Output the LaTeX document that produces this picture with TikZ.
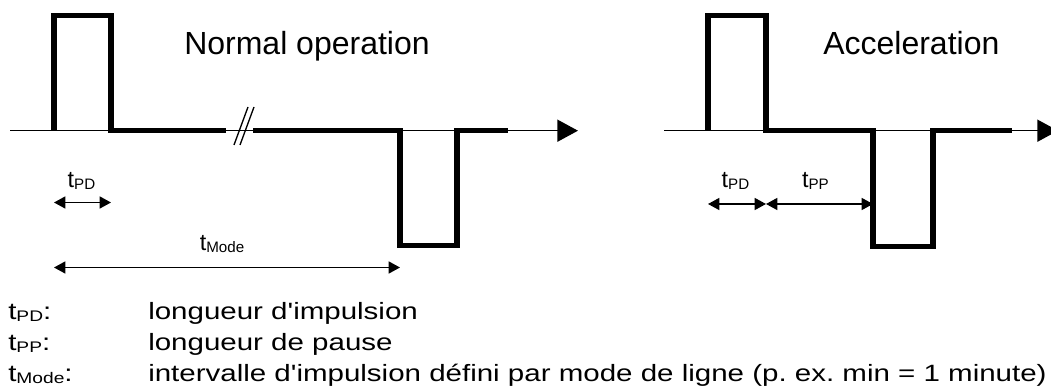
\documentclass[tikz,border=0pt]{standalone}
\usepackage{fontspec}
\setmainfont{Liberation Sans}
\usetikzlibrary{arrows.meta}
% "t" with a small, barely lowered index
\newcommand{\tsub}[1]{t\raisebox{-0.07em}{\scalebox{0.65}{#1}}}
% legend text is set a little wider than tall
\newcommand{\wide}[1]{\scalebox{1.25}[1]{#1}}
\frenchspacing
\begin{document}
\begin{tikzpicture}[x=0.75pt,y=-0.75pt,
  axisline/.style={line width=1.2pt},
  signal/.style={line width=3.8pt, line join=miter},
  bigtip/.style={-{Triangle[length=15.5pt,width=16.5pt]}},
  dimline/.style={line width=1.1pt, {Triangle[length=8.5pt,width=9pt]}-{Triangle[length=8.5pt,width=9pt]}},
  title/.style={font=\fontsize{24}{28}\selectfont, anchor=base west, inner sep=0pt},
  lbl/.style={font=\fontsize{17.5}{20}\selectfont, anchor=base, inner sep=0pt},
  legend/.style={font=\fontsize{17.7}{21}\selectfont, anchor=base west, inner sep=0pt}]
\useasboundingbox (0,0) rectangle (1051,391);

% ---------- normal operation ----------
\coordinate (a0) at (10,130.7);
\coordinate (a1) at (578,130.7);
\draw[axisline,bigtip] (a0) -- (a1);

\coordinate (p1) at (54,130.7);
\coordinate (p2) at (111,130.7);
\coordinate (b1) at (226,130.7);
\coordinate (b2) at (253,130.7);
\coordinate (n1) at (400,130.7);
\coordinate (n2) at (457,130.7);
\coordinate (e1) at (508,130.7);
\draw[signal] (p1) -- (54,15.7) -- (111,15.7) -- (p2) -- (b1);
\draw[signal] (b2) -- (n1) -- (400,245.7) -- (457,245.7) -- (n2) -- (e1);

% break marks
\coordinate (s1a) at (234,145);
\coordinate (s1b) at (248,107);
\coordinate (s2a) at (240,145);
\coordinate (s2b) at (254,107);
\draw[line width=1pt] (s1a) -- (s1b);
\draw[line width=1pt] (s2a) -- (s2b);

\node[title] (tnorm) at (184,55) {Normal operation};

% dimensions
\coordinate (d1a) at (54,202.5);
\coordinate (d1b) at (111,202.5);
\draw[dimline] (d1a) -- (d1b);
\node[lbl] (lpd) at (81.5,188) {\tsub{PD}};

\coordinate (m1a) at (54,267.5);
\coordinate (m1b) at (400,267.5);
\draw[dimline] (m1a) -- (m1b);
\node[lbl] (lmode) at (222,251) {\tsub{Mode}};

% ---------- acceleration ----------
\coordinate (c0) at (664,130.7);
\coordinate (c1) at (1058,130.7);
\draw[axisline,bigtip] (c0) -- (c1);

\coordinate (q1) at (708,130.7);
\coordinate (q2) at (766,130.7);
\coordinate (r1) at (873,130.7);
\coordinate (r2) at (933,130.7);
\coordinate (f1) at (1012,130.7);
\draw[signal] (q1) -- (708,15.7) -- (766,15.7) -- (q2) -- (r1) -- (873,246.5) -- (933,246.5) -- (r2) -- (f1);

\node[title] (tacc) at (823,55) {Acceleration};

\coordinate (d2a) at (708,204);
\coordinate (d2b) at (766,204);
\coordinate (d2c) at (873,204);
\draw[dimline] (d2a) -- (d2b);
\draw[dimline] (d2b) -- (d2c);
\node[lbl] (rpd) at (735.5,188) {\tsub{PD}};
\node[lbl] (rpp) at (815.5,188) {\tsub{PP}};

% ---------- legend ----------
\node[legend] (k1) at (8,320) {\wide{\tsub{PD}:}};
\node[legend] (k2) at (8,351) {\wide{\tsub{PP}:}};
\node[legend] (k3) at (8,382) {\wide{\tsub{Mode}:}};
\node[legend] (v1) at (148,320) {\wide{longueur d\textquotesingle impulsion}};
\node[legend] (v2) at (148,351) {\wide{longueur de pause}};
\node[legend] (v3) at (148,382) {\wide{intervalle d\textquotesingle impulsion défini par mode de ligne (p. ex. min = 1 minute)}};
\end{tikzpicture}
\end{document}
